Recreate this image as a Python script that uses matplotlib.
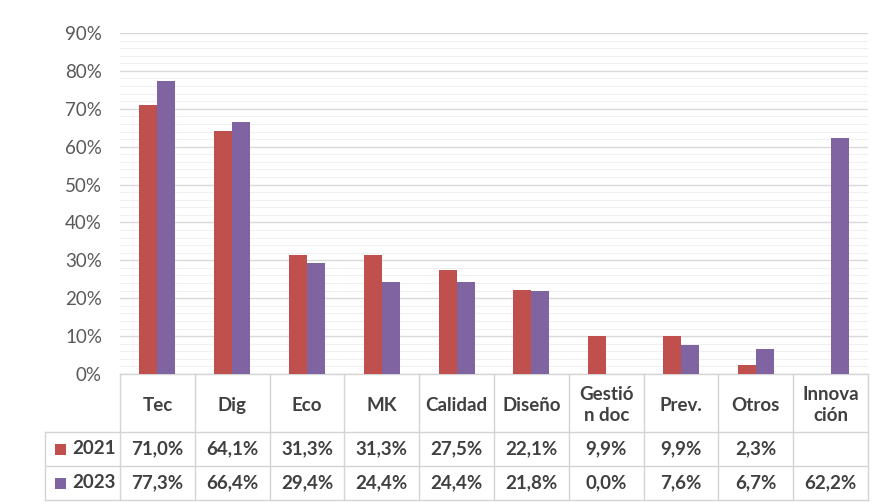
import numpy as np
import matplotlib.pyplot as plt
import matplotlib.transforms as mtransforms
from matplotlib.patches import Rectangle

plt.rcParams['font.family'] = ['Lato', 'DejaVu Sans']

# Data
categories = ['Tec', 'Dig', 'Eco', 'MK', 'Calidad', 'Diseño',
              'Gestió\nn doc', 'Prev.', 'Otros', 'Innova\nción']
years = ['2021', '2023']
v2021 = [71.0, 64.1, 31.3, 31.3, 27.5, 22.1, 9.9, 9.9, 2.3, np.nan]
v2023 = [77.3, 66.4, 29.4, 24.4, 24.4, 21.8, 0.0, 7.6, 6.7, 62.2]
colors = ['#C0504D', '#8064A2']

W, H = 883, 504
fig = plt.figure(figsize=(W / 100, H / 100), dpi=100)
ax = fig.add_axes([120 / W, 1 - 374 / H, 748 / W, 341 / H])

x = np.arange(len(categories))
bw = 0.24
for vals, off, c in zip([v2021, v2023], [-bw / 2, bw / 2], colors):
    ax.bar(x + off, np.nan_to_num(vals), bw, color=c, zorder=3)

ax.set_xlim(-0.5, len(categories) - 0.5)
ax.set_ylim(0, 90)
ax.set_yticks(np.arange(0, 91, 10))
ax.set_yticklabels([f'{t}%' for t in range(0, 91, 10)], color='#595959', fontsize=13.5)
ax.set_yticks(np.arange(0, 91, 2), minor=True)
ax.grid(axis='y', which='major', color='#D9D9D9', lw=1, zorder=0)
ax.grid(axis='y', which='minor', color='#F0F0F0', lw=0.8, zorder=0)
ax.tick_params(axis='y', which='both', length=0, pad=13)
ax.tick_params(axis='x', which='both', length=0, labelbottom=False)
for s in ax.spines.values():
    s.set_visible(False)

# Data table below the axes (x in data units, y in figure fraction)
tr = mtransforms.blended_transform_factory(ax.transData, fig.transFigure)
lc = '#D4D4D4'
y0, y1, y2, y3 = [1 - p / H for p in (374, 432, 466, 500)]
n = len(categories)
left = -1.5
right = n - 0.5

def hline(xa, xb, y):
    ax.plot([xa, xb], [y, y], color=lc, lw=1, transform=tr, clip_on=False)

def vline(xx, ya, yb):
    ax.plot([xx, xx], [ya, yb], color=lc, lw=1, transform=tr, clip_on=False)

hline(-0.5, right, y0)
hline(left, right, y1)
hline(left, right, y2)
hline(left, right, y3)
vline(left, y1, y3)
for i in range(n + 1):
    vline(i - 0.5, y0, y3)

txt = '#404040'
fs = 13.5
for i, cat in enumerate(categories):
    ax.text(i, (y0 + y1) / 2 - 0.004, cat, transform=tr, ha='center', va='center',
            fontsize=fs, fontweight='bold', color=txt, linespacing=1.3)

def fmt(v):
    if np.isnan(v):
        return ''
    return f'{v:.1f}%'.replace('.', ',')

sq_w = 11 / 74.8
sq_h = 11 / H
for vals, yr, c, ya, yb in zip([v2021, v2023], years, colors, [y1, y2], [y2, y3]):
    ym = (ya + yb) / 2
    ax.add_patch(Rectangle((-1.369, ym - sq_h / 2), sq_w, sq_h, facecolor=c,
                           edgecolor='none', transform=tr, clip_on=False))
    ax.text(-1.145, ym, yr, transform=tr, ha='left', va='center',
            fontsize=fs, fontweight='bold', color=txt)
    for i, v in enumerate(vals):
        ax.text(i, ym, fmt(v), transform=tr, ha='center', va='center',
                fontsize=fs, fontweight='bold', color=txt)

fig.savefig('out.png', dpi=100)
